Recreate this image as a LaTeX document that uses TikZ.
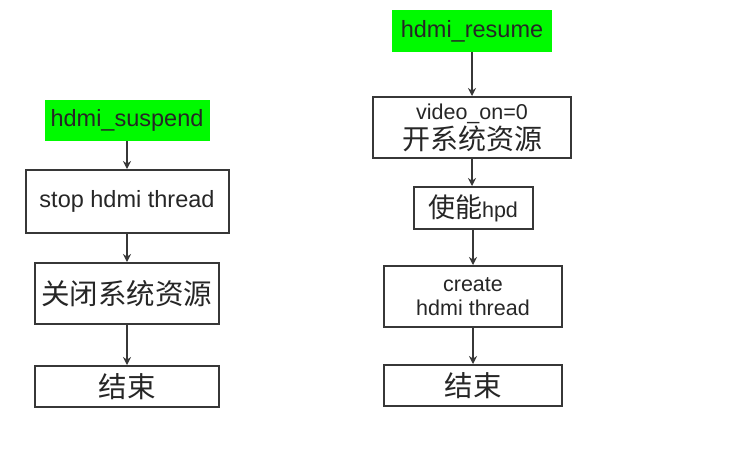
\documentclass[tikz,border=0pt]{standalone}
\usepackage{fontspec}
\setmainfont{Liberation Sans}
\newfontfamily\cjk{Noto Sans CJK SC}
\usetikzlibrary{arrows.meta}
\definecolor{lime}{RGB}{0,250,0}
\definecolor{edge}{RGB}{55,55,55}
\tikzset{
  box/.style={draw=edge,line width=2pt,fill=white,inner sep=0pt,align=center,text=black!85},
  startbox/.style={fill=lime,inner sep=0pt,align=center,text=black!85,font=\fontsize{23.5}{26}\selectfont},
  en/.style={font=\fontsize{23.5}{26}\selectfont},
  enr/.style={font=\fontsize{21.5}{24}\selectfont},
  zh/.style={font=\cjk\fontsize{28.5}{30}\selectfont},
  arr/.style={draw=edge,line width=2pt,-{Stealth[length=8pt,width=8pt]}}
}
\begin{document}
\begin{tikzpicture}[x=1pt,y=-1pt]
\useasboundingbox (0,0) rectangle (740,448);
% left column
\node[startbox,minimum width=165pt,minimum height=41pt] (l1) at (127,120.5) {hdmi\_suspend};
\node[box,en,minimum width=203pt,minimum height=63pt] (l2) at (127,201.5) {stop hdmi thread};
\node[box,zh,minimum width=184pt,minimum height=61pt] (l3) at (127,293.5) {关闭系统资源};
\node[box,zh,minimum width=184pt,minimum height=41pt] (l4) at (127,386.5) {结束};
% right column
\node[startbox,minimum width=160pt,minimum height=42pt] (r1) at (472,31) {hdmi\_resume};
\node[box,minimum width=198pt,minimum height=61pt] (r2) at (472,127.5) {{\fontsize{21.5}{22}\selectfont video\_on=0}\\[1pt]{\cjk\fontsize{28}{28}\selectfont 开系统资源}};
\node[box,minimum width=119pt,minimum height=42pt] (r3) at (473,208) {{\cjk\fontsize{27}{28}\selectfont 使能}{\fontsize{21.5}{24}\selectfont hpd}};
\node[box,enr,minimum width=178pt,minimum height=61pt] (r4) at (473,296.5) {create\\[0pt]hdmi thread};
\node[box,zh,minimum width=178pt,minimum height=41pt] (r5) at (473,385.5) {结束};
% connectors
\draw[arr] (l1.south) -- (l1.south |- l2.north);
\draw[arr] (l2.south) -- (l2.south |- l3.north);
\draw[arr] (l3.south) -- (l3.south |- l4.north);
\draw[arr] (r1.south) -- (r1.south |- r2.north);
\draw[arr] (r2.south) -- (r2.south |- r3.north);
\draw[arr] (r3.south) -- (r3.south |- r4.north);
\draw[arr] (r4.south) -- (r4.south |- r5.north);
\end{tikzpicture}
\end{document}
